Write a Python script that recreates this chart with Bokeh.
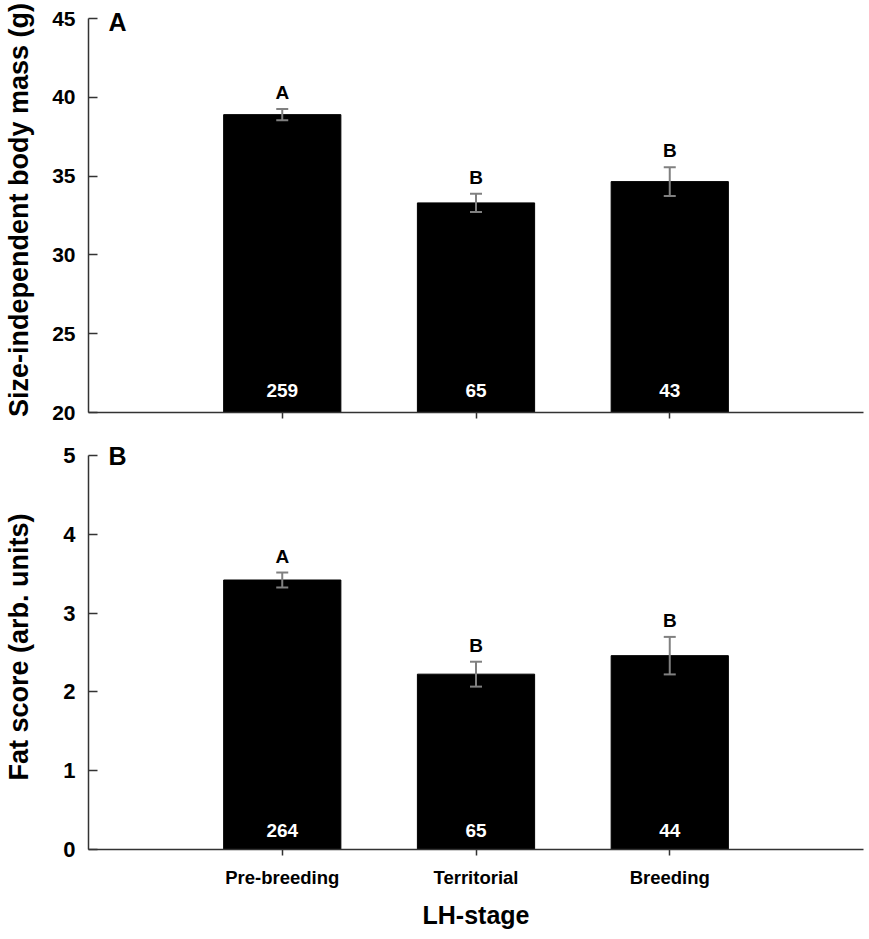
from bokeh.plotting import figure
from bokeh.layouts import column
from bokeh.models import (ColumnDataSource, Range1d, FixedTicker, Whisker, TeeHead, Label)
from bokeh.core.properties import value
from bokeh.embed import file_html
from bokeh.resources import INLINE

stages = ["Pre-breeding", "Territorial", "Breeding"]
xpos = [1, 2, 3]

mass_mean = [38.9, 33.3, 34.65]
mass_se = [0.35, 0.58, 0.91]
mass_letters = ["A", "B", "B"]
mass_n = ["259", "65", "43"]
mass_ticks = [20, 25, 30, 35, 40, 45]

fat_mean = [3.42, 2.225, 2.46]
fat_se = [0.095, 0.158, 0.238]
fat_letters = ["A", "B", "B"]
fat_n = ["264", "65", "44"]
fat_ticks = [0, 1, 2, 3, 4, 5]

FONT = "Liberation Sans"
AX = "#333333"
AXIS_PX = 394      # pixel height of the drawn axis
PAD_PX = 11        # free space above the axis top for the panel letter


def panel(mean, se, letters, ns, ymin, ymax, yticks, ylabel, tag, h, top_b, bot_b,
          show_x, ystand, n_off, tag_off, tick_fs):
    yend = ymax + PAD_PX * (ymax - ymin) / AXIS_PX
    p = figure(width=866, height=h, output_backend="svg", toolbar_location=None,
               x_range=Range1d(0, 4), y_range=Range1d(ymin, yend),
               min_border_left=88, min_border_right=3,
               min_border_top=top_b, min_border_bottom=bot_b)
    p.outline_line_color = None
    p.xgrid.visible = False
    p.ygrid.visible = False
    src = ColumnDataSource(dict(
        x=xpos, top=mean, upper=[m + s for m, s in zip(mean, se)],
        lower=[m - s for m, s in zip(mean, se)], letters=letters, n=ns,
        base=[ymin] * len(mean)))
    p.vbar(x="x", top="top", bottom="base", width=0.605, source=src,
           fill_color="black", line_color="black")
    w = Whisker(source=src, base="x", upper="upper", lower="lower", dimension="height",
                line_color="#808080", line_width=2, level="overlay",
                upper_head=TeeHead(size=12, line_color="#808080", line_width=2),
                lower_head=TeeHead(size=12, line_color="#808080", line_width=2))
    p.add_layout(w)
    p.text(x="x", y="upper", text="letters", source=src, text_align="center",
           text_baseline="middle", y_offset=-16.5, text_font=value(FONT),
           text_font_style="bold", text_font_size="19px", text_color="black")
    p.text(x="x", y="base", text="n", source=src, text_align="center",
           text_baseline="middle", y_offset=-n_off, text_font=value(FONT),
           text_font_style="bold", text_font_size="19px", text_color="white")
    p.add_layout(Label(x=0, y=ymax, x_offset=20, y_offset=-tag_off, text=tag,
                       text_font=FONT, text_font_style="bold", text_font_size="25px",
                       text_baseline="middle", text_color="black"))

    ya = p.yaxis[0]
    ya.bounds = (ymin, ymax)
    ya.ticker = FixedTicker(ticks=yticks)
    ya.major_tick_in = 9
    ya.major_tick_out = 0
    ya.minor_tick_in = 0
    ya.minor_tick_out = 0
    ya.major_label_standoff = 13
    ya.axis_label = ylabel
    ya.axis_label_standoff = ystand
    ya.axis_label_text_font = FONT
    ya.axis_label_text_font_style = "bold"
    ya.axis_label_text_font_size = "27px"
    ya.axis_label_text_color = "black"
    ya.major_label_text_font = FONT
    ya.major_label_text_font_style = "bold"
    ya.major_label_text_font_size = tick_fs
    ya.major_label_text_color = "black"
    ya.axis_line_color = AX
    ya.axis_line_width = 1.5
    ya.major_tick_line_color = AX
    ya.major_tick_line_width = 1.5

    xa = p.xaxis[0]
    xa.ticker = FixedTicker(ticks=xpos)
    xa.major_tick_in = 0
    xa.major_tick_out = 6
    xa.minor_tick_in = 0
    xa.minor_tick_out = 0
    xa.axis_line_color = AX
    xa.axis_line_width = 1.5
    xa.major_tick_line_color = AX
    xa.major_tick_line_width = 1.5
    if show_x:
        xa.major_label_overrides = {x: s for x, s in zip(xpos, stages)}
        xa.major_label_standoff = 11
        xa.major_label_text_font = FONT
        xa.major_label_text_font_style = "bold"
        xa.major_label_text_font_size = "18.5px"
        xa.major_label_text_color = "black"
        xa.axis_label = "LH-stage"
        xa.axis_label_standoff = 10
        xa.axis_label_text_font = FONT
        xa.axis_label_text_font_style = "bold"
        xa.axis_label_text_font_size = "25px"
        xa.axis_label_text_color = "black"
    else:
        xa.major_label_overrides = {x: "" for x in xpos}
        xa.major_label_standoff = 0
    return p


p1 = panel(mass_mean, mass_se, mass_letters, mass_n, 20, 45, mass_ticks,
           "Size-independent body mass (g)", "A", 442, 7, 30, False, 15, 22, 3, "21px")
p2 = panel(fat_mean, fat_se, fat_letters, fat_n, 0, 5, fat_ticks,
           "Fat score (arb. units)", "B", 492, 2, 85, True, 26, 19, 0, "22px")

layout = column(p1, p2, spacing=0)
open("out.html", "w").write(file_html(layout, INLINE))
